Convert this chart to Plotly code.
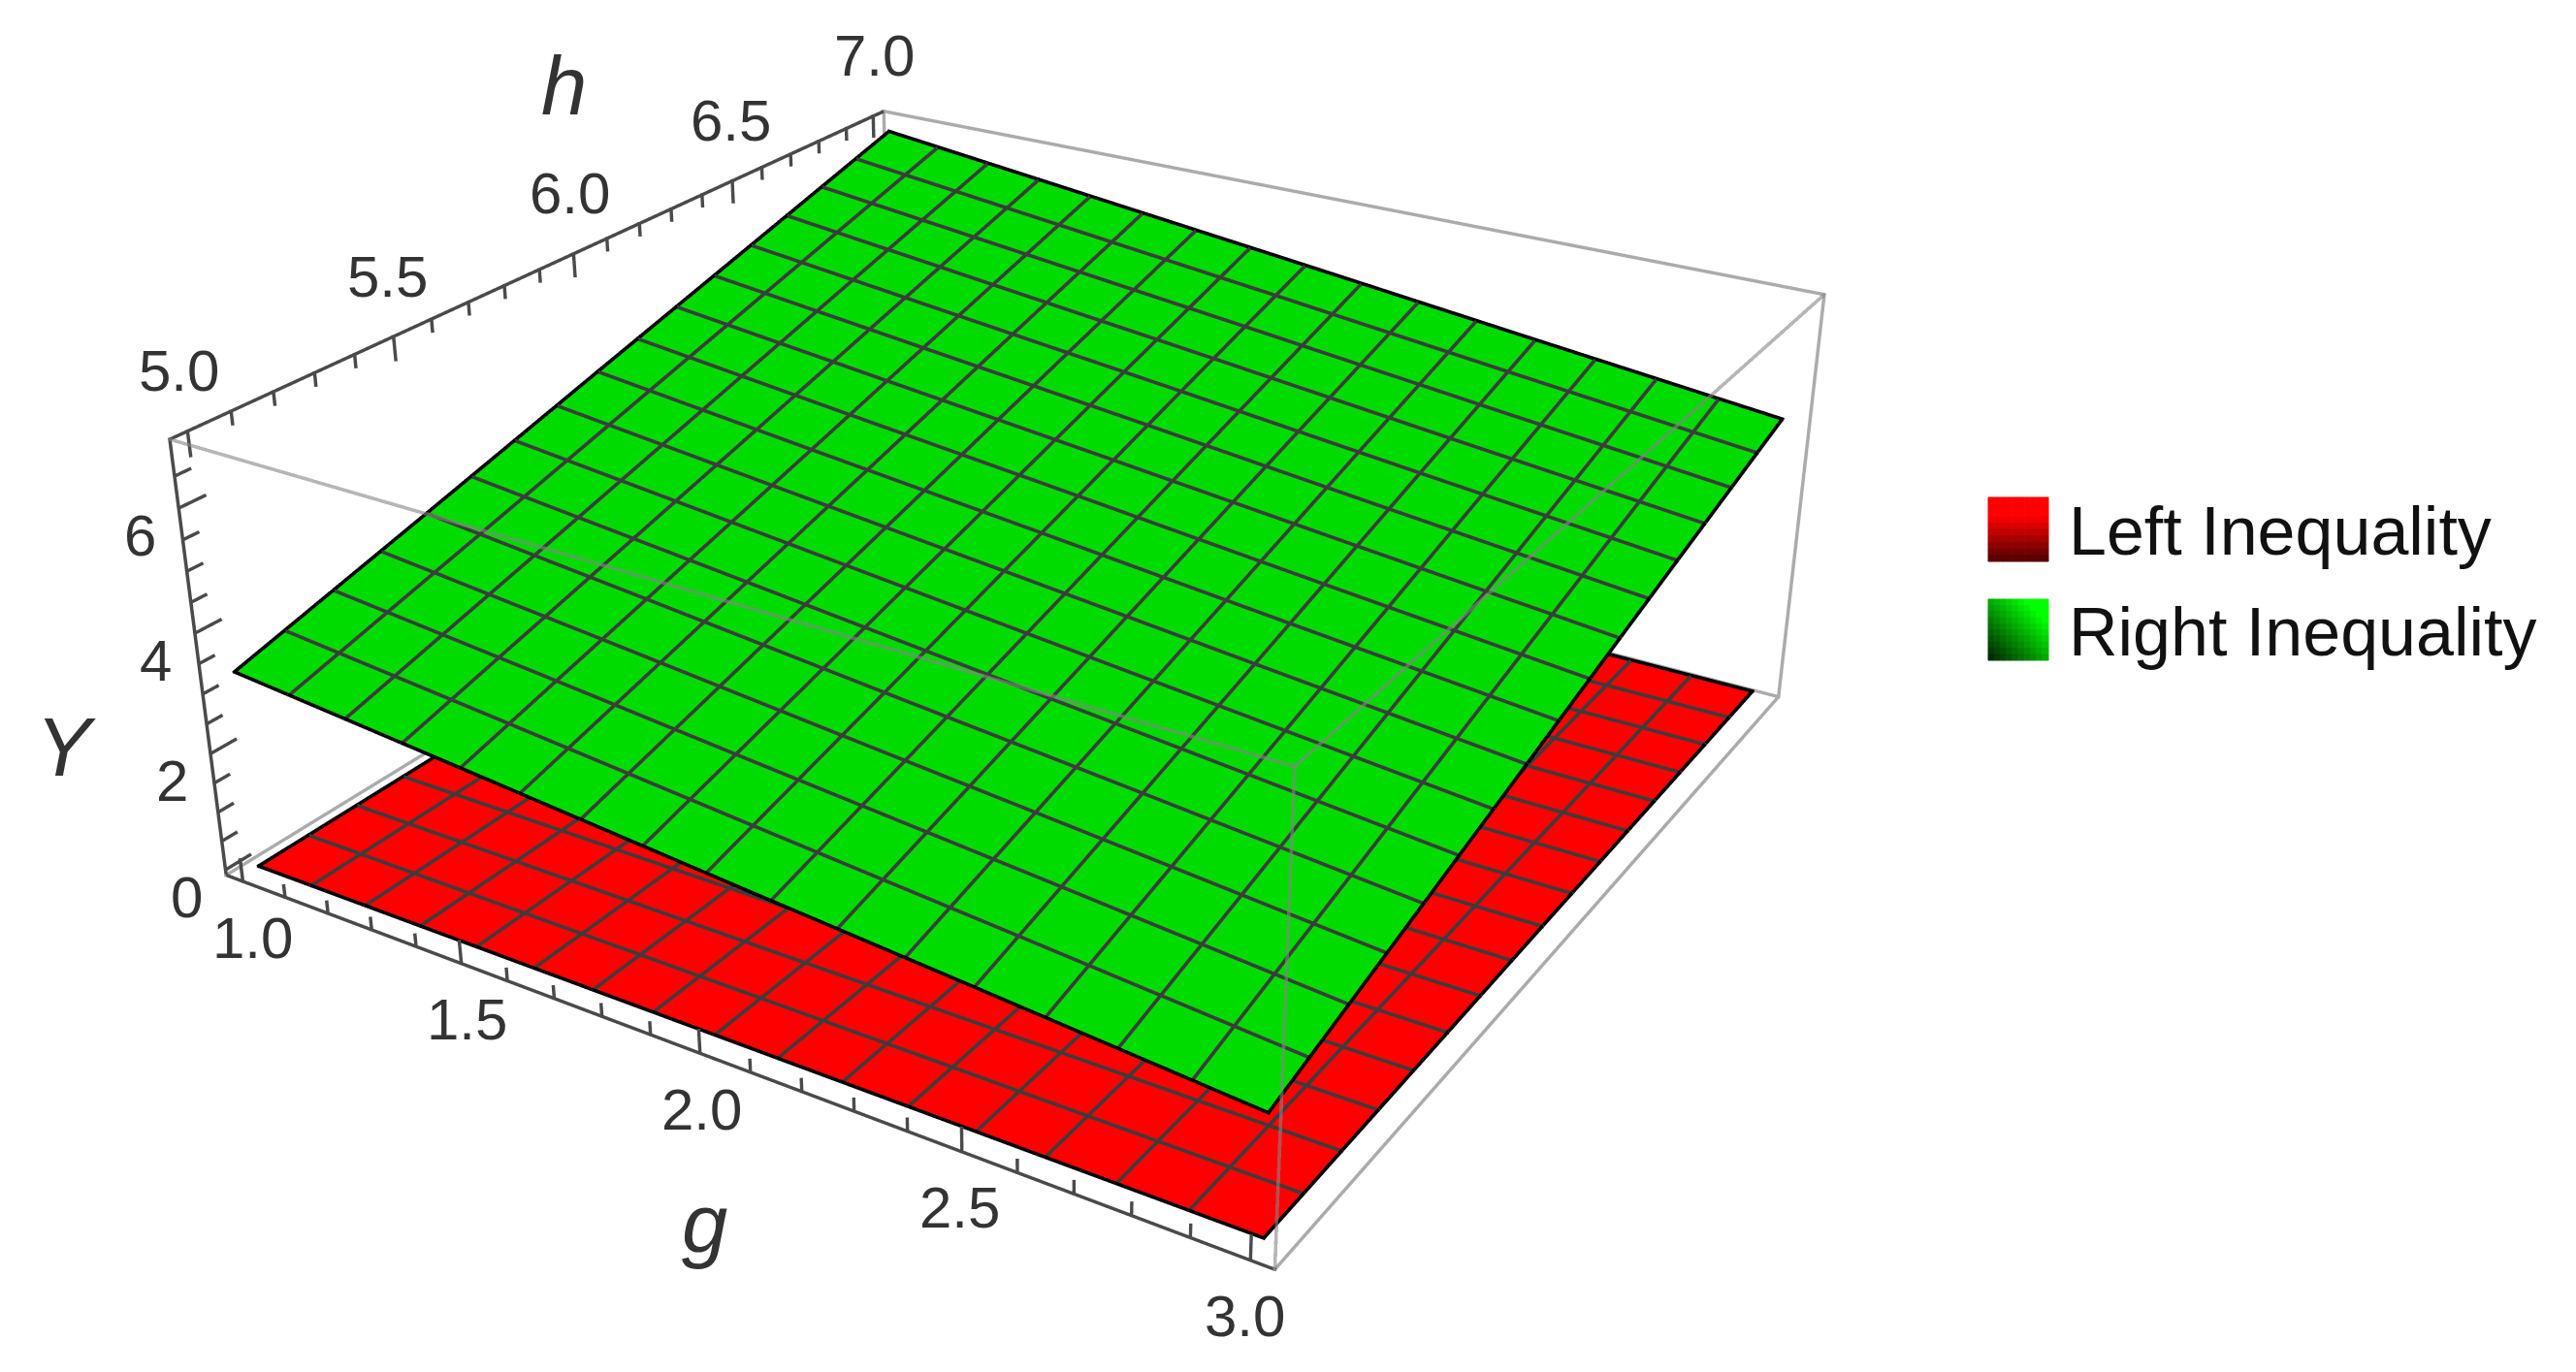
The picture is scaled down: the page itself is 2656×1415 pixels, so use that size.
import numpy as np
import plotly.graph_objects as go

# ---- data ----
g_knots = [1.0, 1.5, 2.0, 2.5, 3.0]
h_knots = [5.0, 5.5, 6.0, 6.5, 7.0]
left_z = [[0.000, 0.006, 0.013, 0.020, 0.026],
          [0.012, 0.018, 0.024, 0.030, 0.037],
          [0.025, 0.030, 0.035, 0.040, 0.048],
          [0.037, 0.042, 0.047, 0.052, 0.059],
          [0.050, 0.055, 0.060, 0.065, 0.070]]
right_z = [[3.31, 2.97, 2.62, 2.28, 1.93],
           [4.19, 3.82, 3.44, 3.07, 2.69],
           [5.08, 4.67, 4.27, 3.86, 3.46],
           [5.96, 5.53, 5.10, 4.66, 4.23],
           [6.84, 6.38, 5.92, 5.45, 4.99]]
g_ticks = [1.0, 1.5, 2.0, 2.5, 3.0]
g_labels = ["1.0", "1.5", "2.0", "2.5", "3.0"]
h_ticks = [5.0, 5.5, 6.0, 6.5, 7.0]
h_labels = ["5.0", "5.5", "6.0", "6.5", "7.0"]
z_ticks = [0, 2, 4, 6]
z_labels = ["0", "2", "4", "6"]
g_minor = [1.1, 1.2, 1.3, 1.4, 1.6, 1.7, 1.8, 1.9, 2.1, 2.2, 2.3, 2.4, 2.6, 2.7, 2.8, 2.9]
h_minor = [5.1, 5.2, 5.3, 5.4, 5.6, 5.7, 5.8, 5.9, 6.1, 6.2, 6.3, 6.4, 6.6, 6.7, 6.8, 6.9]
z_minor = [0.5, 1, 1.5, 2.5, 3, 3.5, 4.5, 5, 5.5, 6.5]
series_names = ["Left Inequality", "Right Inequality"]
g_range = [0.96, 3.04]
h_range = [4.96, 7.04]
z_range = [-0.093, 7.07]
mesh_divisions = 16

# ---- scene / page geometry ----
FIG_W, FIG_H, SHIFT = 2656, 2734, 770
def PX(x): return x / FIG_W
def PY(y): return 1 - (y + SHIFT) / FIG_H

g0, g1 = g_range; h0, h1 = h_range; zb, zt = z_range
EYE = np.array([1.3068, -2.1065, 1.2040])
ASPECT = np.array([1.0, 0.997, 0.4002])
PAD = 1.06                                   # axis ranges slightly wider so edge lines are not clipped
FOCAL = FIG_H / 2 * (1 / np.tan(np.pi / 8))
MID = np.array([(g0 + g1) / 2, (h0 + h1) / 2, (zb + zt) / 2])
SPAN = np.array([g1 - g0, h1 - h0, zt - zb])
FWD = -EYE / np.linalg.norm(EYE)

def to_world(p): return (np.asarray(p, float) - MID) / SPAN * ASPECT
def to_data(w): return w / ASPECT * SPAN + MID

class Ribbons:
    """Wide lines: WebGL lines stay 1 px, so each segment is a thin camera-facing Mesh3d strip."""
    def __init__(self, color, px, lift=0.0, opacity=1.0):
        self.color, self.px, self.lift, self.opacity = color, px, lift, opacity
        self.v, self.i, self.j, self.k = [], [], [], []
    def add(self, a, b):
        A, B = to_world(a), to_world(b)
        d = B - A
        d = d / np.linalg.norm(d)
        n0 = len(self.v)
        for P, ext in ((A, -1), (B, 1)):
            view = EYE - P
            n = np.cross(d, view); n /= np.linalg.norm(n)
            hw = 0.5 * self.px * np.dot(P - EYE, FWD) / FOCAL
            C = P + ext * d * hw + self.lift * view / np.linalg.norm(view)
            self.v += [to_data(C + n * hw), to_data(C - n * hw)]
        self.i += [n0, n0 + 1]; self.j += [n0 + 1, n0 + 3]; self.k += [n0 + 2, n0 + 2]
    def trace(self):
        v = np.array(self.v)
        return go.Mesh3d(x=v[:, 0], y=v[:, 1], z=v[:, 2], i=self.i, j=self.j, k=self.k,
                         color=self.color, opacity=self.opacity, hoverinfo="skip", flatshading=True,
                         lighting=dict(ambient=1, diffuse=0, specular=0, fresnel=0, roughness=1))

def z_at(table, g, h):
    t = np.asarray(table)
    col = np.array([np.interp(g, g_knots, row) for row in t])
    return float(np.interp(h, h_knots, col))

def surface(z, color, name):
    return go.Surface(x=g_knots, y=h_knots, z=z, name=name,
                      colorscale=[[0, color], [1, color]], showscale=False, hoverinfo="skip",
                      lighting=dict(ambient=1, diffuse=0, specular=0, fresnel=0, roughness=1),
                      contours=dict(x=dict(highlight=False), y=dict(highlight=False), z=dict(highlight=False)))

def add_mesh(table, mesh, edge):
    for k in range(mesh_divisions + 1):
        f = k / mesh_divisions
        target = edge if k in (0, mesh_divisions) else mesh
        gv, hv = 1 + 2 * f, 5 + 2 * f
        for a, b in zip(h_knots[:-1], h_knots[1:]):
            target.add((gv, a, z_at(table, gv, a)), (gv, b, z_at(table, gv, b)))
        for a, b in zip(g_knots[:-1], g_knots[1:]):
            target.add((a, hv, z_at(table, a, hv)), (b, hv, z_at(table, b, hv)))

fig = go.Figure()
fig.add_trace(surface(left_z, "#ff0000", series_names[0]))
fig.add_trace(surface(right_z, "#00dc00", series_names[1]))
mesh_lines = Ribbons("#3c3c3c", 3.6, lift=0.005)
edge_lines = Ribbons("#000000", 3.6, lift=0.006)
add_mesh(left_z, mesh_lines, edge_lines)
add_mesh(right_z, mesh_lines, edge_lines)
fig.add_trace(mesh_lines.trace())
fig.add_trace(edge_lines.trace())

back = Ribbons("#ababab", 3.4)
for a, b in [((g0, h1, zt), (g1, h1, zt)), ((g1, h1, zt), (g1, h1, zb)), ((g1, h0, zb), (g1, h1, zb)),
             ((g0, h0, zb), (g0, h1, zb)), ((g0, h1, zb), (g1, h1, zb)), ((g0, h1, zb), (g0, h1, zt))]:
    back.add(a, b)
front = Ribbons("#858585", 3.6, lift=0.01, opacity=0.6)
for a, b in [((g0, h0, zt), (g1, h0, zt)), ((g1, h0, zt), (g1, h1, zt)), ((g1, h0, zb), (g1, h0, zt))]:
    front.add(a, b)
axes = Ribbons("#4a4a4a", 3.4)
for a, b in [((g0, h0, zb), (g1, h0, zb)), ((g0, h0, zt), (g0, h1, zt)), ((g0, h0, zb), (g0, h0, zt))]:
    axes.add(a, b)
for v, L in [(t, .38) for t in g_ticks] + [(t, .2) for t in g_minor]:
    axes.add((v, h0, zb), (v, h0, zb + L))
for v, L in [(t, .38) for t in h_ticks] + [(t, .2) for t in h_minor]:
    axes.add((g0, v, zt), (g0, v, zt - L))
for v, L in [(t, .06) for t in z_ticks] + [(t, .035) for t in z_minor]:
    axes.add((g0, h0, v), (g0, h0 + L, v))
fig.add_trace(back.trace())
fig.add_trace(axes.trace())
fig.add_trace(front.trace())

tick_font = dict(family="Liberation Sans", size=60, color="#333333")
title_font = dict(family="Liberation Sans", size=85, color="#333333")
ann = []
for i, (t, s) in enumerate(zip(g_ticks, g_labels)):
    ann.append(dict(x=t, y=h0, z=zb, text=s, showarrow=False, font=tick_font,
                    xshift=10 - 4 * i, yshift=-58))
for i, (t, s) in enumerate(zip(h_ticks, h_labels)):
    ann.append(dict(x=g0, y=t, z=zt, text=s, showarrow=False, font=tick_font,
                    xshift=-9 + 2.5 * i, yshift=62))
for t, s in zip(z_ticks, z_labels):
    ann.append(dict(x=g0, y=h0, z=t, text=s, showarrow=False, font=tick_font,
                    xshift=-40, yshift=-28))
ann.append(dict(x=2.0, y=h0, z=zb, text="<i>g</i>", showarrow=False, font=title_font, xshift=5, yshift=-175))
ann.append(dict(x=g0, y=6.0, z=zt, text="<i>h</i>", showarrow=False, font=title_font, xshift=-10, yshift=173))
ann.append(dict(x=g0, y=h0, z=3.5, text="<i>Y</i>", showarrow=False, font=title_font, xshift=-137, yshift=-86))

def padded(r):
    m, s = (r[0] + r[1]) / 2, (r[1] - r[0]) / 2 * PAD
    return [m - s, m + s]
blank = dict(visible=False, showgrid=False, zeroline=False, showbackground=False,
             showspikes=False, autorange=False)
fig.update_layout(
    width=FIG_W, height=FIG_H, margin=dict(l=0, r=0, t=0, b=0, autoexpand=False),
    paper_bgcolor="white", showlegend=False,
    scene=dict(
        domain=dict(x=[0, 2148 / FIG_W], y=[0, 1]),
        xaxis=dict(range=padded(g_range), **blank), yaxis=dict(range=padded(h_range), **blank),
        zaxis=dict(range=padded(z_range), **blank),
        aspectmode="manual",
        aspectratio=dict(x=ASPECT[0] * PAD, y=ASPECT[1] * PAD, z=ASPECT[2] * PAD),
        camera=dict(eye=dict(x=EYE[0], y=EYE[1], z=EYE[2]), center=dict(x=0, y=0, z=0),
                    up=dict(x=0, y=0, z=1), projection=dict(type="perspective")),
        annotations=ann))

# legend swatches (gradient built from small rectangles) and labels
def swatch(x0, x1, y0, y1, colorfn, n=10):
    for i in range(n):
        for j in range(n):
            c = colorfn((i + .5) / n, (j + .5) / n)
            fig.add_shape(type="rect", xref="paper", yref="paper", line=dict(color=c, width=1),
                          x0=PX(x0 + (x1 - x0) * i / n), x1=PX(x0 + (x1 - x0) * (i + 1) / n),
                          y0=PY(y0 + (y1 - y0) * j / n), y1=PY(y0 + (y1 - y0) * (j + 1) / n),
                          fillcolor=c)
def red(u, v):
    k = 1 - max(0, v - .3) / .7 * .68
    return "rgb(%d,0,0)" % (255 * k)
def green(u, v):
    k = min(1, .12 + .55 * u + .55 * (1 - v))
    return "rgb(0,%d,0)" % (255 * k)
swatch(2050, 2112, 513, 579, red)
swatch(2050, 2112, 618, 681, green)
for name, y in zip(series_names, [548, 652]):
    fig.add_annotation(x=PX(2131), y=PY(y), xref="paper", yref="paper", text=name, showarrow=False,
                       xanchor="left", yanchor="middle",
                       font=dict(family="Liberation Sans", size=70, color="#111111"))

fig.write_html("out.html", config=dict(displayModeBar=False),
               post_script="document.documentElement.style.overflow='hidden';"
                           "document.body.style.overflow='hidden';document.body.style.margin='-%dpx 0 0 0';" % SHIFT)
